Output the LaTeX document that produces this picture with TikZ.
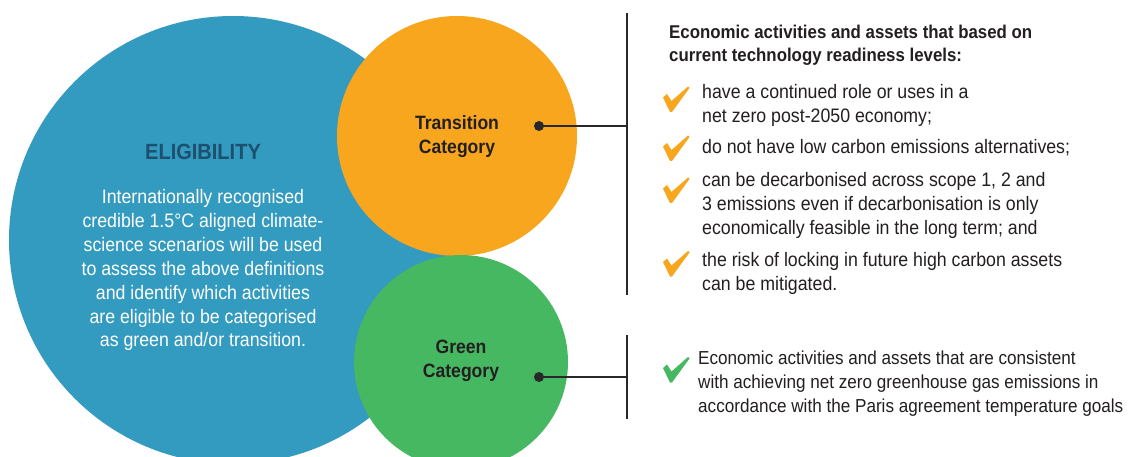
\documentclass[tikz,border=0pt]{standalone}
\usepackage{fontspec}
\setmainfont{Liberation Sans}[FakeStretch=0.91]
\definecolor{bluec}{RGB}{51,154,192}
\definecolor{eligc}{RGB}{28,80,110}
\definecolor{orac}{RGB}{247,166,30}
\definecolor{grnc}{RGB}{71,184,98}
\definecolor{txtc}{RGB}{35,31,32}
\definecolor{linec}{RGB}{40,40,40}
\begin{document}
\begin{tikzpicture}[x=1pt,y=-1pt,
  body/.style={font=\fontsize{19.5}{24}\selectfont, text=txtc, inner sep=0, anchor=base west},
  gbody/.style={font=\fontsize{18.8}{24}\selectfont, text=txtc, inner sep=0, anchor=base west},
  head/.style={font=\bfseries\fontsize{18.5}{24}\selectfont, text=txtc, inner sep=0, anchor=base west},
  wline/.style={font=\fontsize{19.5}{24}\selectfont, text=white, inner sep=0, anchor=base},
  cat/.style={font=\bfseries\fontsize{19.3}{24}\selectfont, text=txtc, inner sep=0, anchor=base},
  bubble/.style={circle, inner sep=0, draw=none},
  dotn/.style={circle, fill=linec, inner sep=0, minimum size=10pt},
  conn/.style={draw=linec, line width=1.2pt},
  chk/.pic={\fill[pic actions] (0,11) -- (4,7.5) -- (8.5,14.5) -- (25,0) -- (26.5,1.5) -- (9,25.5) -- (7,25.5) -- cycle;}
]
\useasboundingbox (0,0) rectangle (1135,457);
\clip (0,0) rectangle (1135,457);
\fill[white] (0,0) rectangle (1135,457);

% circles
\node (blue) [bubble, fill=bluec, minimum size=448pt] at (233,240) {};
\node (trans) [bubble, fill=orac, minimum size=240pt] at (457,136) {};
\node (green) [bubble, fill=grnc, minimum size=214pt] at (461,362) {};

% eligibility text
\node (elig) [font=\bfseries\fontsize{22}{26}\selectfont, text=eligc, inner sep=0, anchor=base] at (203,160) {ELIGIBILITY};
\foreach \t [count=\i] in {Internationally recognised,
  credible 1.5°C aligned climate-,
  science scenarios will be used,
  to assess the above definitions,
  and identify which activities,
  are eligible to be categorised,
  as green and/or transition.}
  \node (b\i) [wline] at (203,{204+23.8*(\i-1)}) {\t};

% category labels
\node (tl1) [cat] at (457,130) {Transition};
\node (tl2) [cat] at (457,154) {Category};
\node (gl1) [cat] at (461,353) {Green};
\node (gl2) [cat] at (461,377) {Category};

% connectors
\node (tdot) [dotn] at (539,126) {};
\node (gdot) [dotn] at (539,377) {};
\coordinate (tbar) at (627,126);
\coordinate (gbar) at (627,377);
\coordinate (ttop) at (627,13);
\coordinate (tbot) at (627,295);
\coordinate (gtop) at (627,335);
\coordinate (gbot) at (627,419);
\draw[conn] (tdot.center) -- (tbar);
\draw[conn] (gdot.center) -- (gbar);
\draw[conn] (ttop) -- (tbot);
\draw[conn] (gtop) -- (gbot);

% transition text
\node (h1) [head] at (669,38.5) {Economic activities and assets that based on};
\node (h2) [head] at (669,62) {current technology readiness levels:};

\pic[fill=orac] at (663,86.5) {chk};
\node (a1) [body] at (702,98.5) {have a continued role or uses in a};
\node (a2) [body] at (702,122.5) {net zero post-2050 economy;};
\pic[fill=orac] at (663,135.5) {chk};
\node (c1) [body] at (702,154) {do not have low carbon emissions alternatives;};
\pic[fill=orac] at (663,177.5) {chk};
\node (d1) [body] at (702,187) {can be decarbonised across scope 1, 2 and};
\node (d2) [body] at (702,211) {3 emissions even if decarbonisation is only};
\node (d3) [body] at (702,235) {economically feasible in the long term; and};
\pic[fill=orac] at (663,251) {chk};
\node (e1) [body] at (702,266) {the risk of locking in future high carbon assets};
\node (e2) [body] at (702,290) {can be mitigated.};

% green text
\pic[fill=grnc] at (663,357) {chk};
\node (g1) [gbody] at (698,364.3) {Economic activities and assets that are consistent};
\node (g2) [gbody] at (698,388.3) {with achieving net zero greenhouse gas emissions in};
\node (g3) [gbody] at (698,412) {accordance with the Paris agreement temperature goals};
\end{tikzpicture}
\end{document}
